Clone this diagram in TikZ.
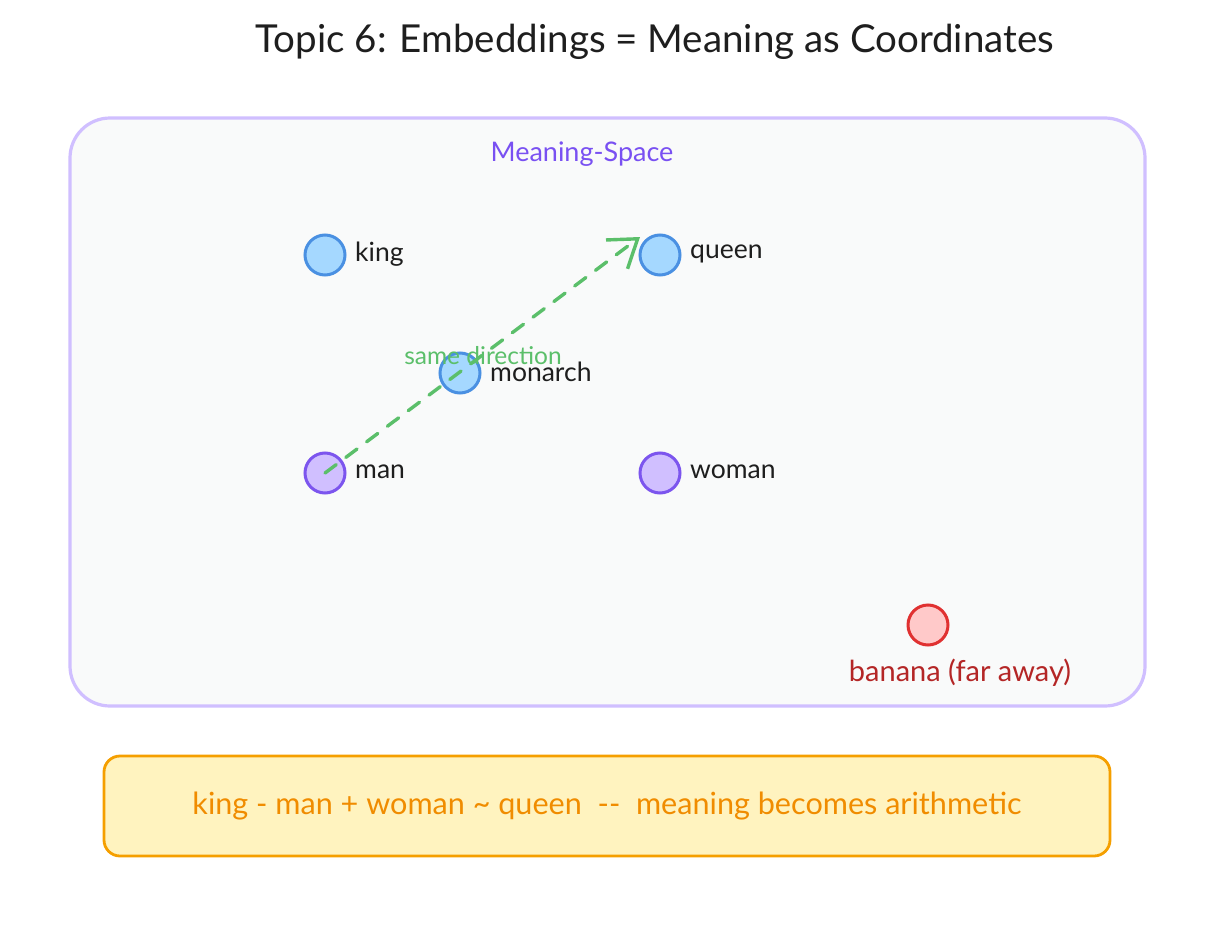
\documentclass[tikz,border=0pt]{standalone}
\usepackage{fontspec}
\setmainfont{Lato}
\usetikzlibrary{arrows.meta}
\definecolor{boxfill}{HTML}{F9FAFA}
\definecolor{boxline}{HTML}{D0BFFF}
\definecolor{violettext}{HTML}{7950F2}
\definecolor{bluefill}{HTML}{A5D8FF}
\definecolor{blueline}{HTML}{4A90E2}
\definecolor{purplefill}{HTML}{D0BFFF}
\definecolor{purpleline}{HTML}{7C55EE}
\definecolor{greenline}{HTML}{5BBF6A}
\definecolor{redfill}{HTML}{FFC9C9}
\definecolor{redline}{HTML}{E03131}
\definecolor{redtext}{HTML}{B42626}
\definecolor{yellowfill}{HTML}{FFF3BF}
\definecolor{orangeline}{HTML}{F59F00}
\definecolor{orangetext}{HTML}{F08C00}
\definecolor{inktext}{HTML}{1E1E1E}
\tikzset{
  dot/.style={circle, minimum size=40pt, inner sep=0pt, line width=3pt},
  bluedot/.style={dot, fill=bluefill, draw=blueline},
  purpledot/.style={dot, fill=purplefill, draw=purpleline},
  reddot/.style={dot, fill=redfill, draw=redline},
  word/.style={anchor=west, inner sep=0pt, font=\fontsize{26.5}{30}\selectfont, text=inktext},
}
\begin{document}
\begin{tikzpicture}[x=1pt,y=-1pt]
\useasboundingbox (0,0) rectangle (1216,926);
\fill[white] (0,0) rectangle (1216,926);
% title
\node[font=\fontsize{38.5}{44}\selectfont, text=inktext, inner sep=0pt] (title) at (655,42) {Topic 6: Embeddings = Meaning as Coordinates};
% meaning space
\node[draw=boxline, fill=boxfill, line width=3.2pt, rounded corners=40pt, minimum width=1075pt, minimum height=588pt, inner sep=0pt] (space) at (607.5,412) {};
\node[font=\fontsize{27}{30}\selectfont, text=violettext, inner sep=0pt] (spacelbl) at (582,154) {Meaning-Space};
% points
\node[bluedot] (king) at (325,255) {};
\node[bluedot] (queen) at (660,255) {};
\node[bluedot] (monarch) at (460,373) {};
\node[purpledot] (man) at (325,473) {};
\node[purpledot] (woman) at (660,473) {};
\node[reddot] (banana) at (928,625) {};
\node[word] (kinglbl) at (355,254) {king};
\node[word] (queenlbl) at (690,254) {queen};
\node[word] (monarchlbl) at (490,372) {monarch};
\node[word] (manlbl) at (355,472) {man};
\node[word] (womanlbl) at (690,472) {woman};
\node[font=\fontsize{29}{32}\selectfont, text=redtext, inner sep=0pt] (bananalbl) at (960,673) {banana (far away)};
% arrow
\coordinate (qtip) at (640,237);
\draw[greenline, line width=3.4pt, dash pattern=on 14pt off 12pt, line cap=round,
  -{Straight Barb[length=26pt,width=36pt,line width=3.4pt]}] (man.center) -- (qtip);
\node[font=\fontsize{24.5}{27}\selectfont, text=greenline, inner sep=0pt] (samedir) at (483,356) {same direction};
% bottom box
\node[draw=orangeline, fill=yellowfill, line width=2.8pt, rounded corners=16pt, minimum width=1006pt, minimum height=100pt, inner sep=0pt,
  font=\fontsize{30.6}{33}\selectfont, text=orangetext] (formula) at (607,806) {\raisebox{-2pt}{king - man + woman \textasciitilde{} queen \ -{}- \ meaning becomes arithmetic}};
\end{tikzpicture}
\end{document}
